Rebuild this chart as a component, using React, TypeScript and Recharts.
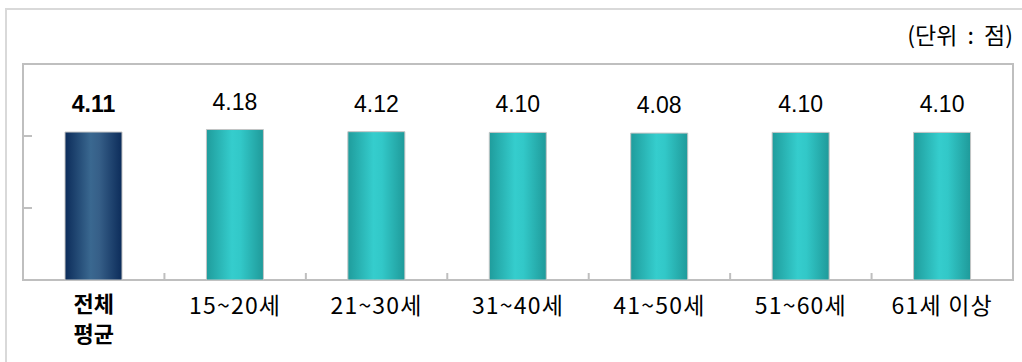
import React from 'react';
import { BarChart, Bar, XAxis, YAxis, Cell, LabelList, ReferenceArea } from 'recharts';

const categories = ['전체 평균', '15~20세', '21~30세', '31~40세', '41~50세', '51~60세', '61세 이상'];
const scores = [4.11, 4.18, 4.12, 4.10, 4.08, 4.10, 4.10];
const yTicks = [2, 4];
const unitLabel = '(단위 : 점)';

const data = categories.map((name, i) => ({ name, value: scores[i] }));

const KR = "'Noto Sans CJK KR', 'Noto Sans', sans-serif";
const NUM = "'Liberation Sans', Arial, sans-serif";
const GRID = '#bfbfbf';

const EmptyTick = () => <g />;

const CatTick = (props: any) => {
  const { x, y, payload, width, visibleTicksCount, index } = props;
  const v = String(payload.value);
  const step = Number(width) / Number(visibleTicksCount || categories.length);
  const bx = Number(x) + step / 2;
  const boundary =
    index < (visibleTicksCount || categories.length) - 1 ? (
      <line x1={bx} y1={y} x2={bx} y2={Number(y) - 7} stroke={GRID} strokeWidth={2} />
    ) : null;
  if (v === '전체 평균') {
    const parts = v.split(' ');
    return (
      <g>
        {boundary}
        <text x={x} y={y + 32} textAnchor="middle" fontFamily={KR} fontSize={22} fontWeight="bold" fill="#000">
          {parts[0]}
        </text>
        <text x={x} y={y + 62} textAnchor="middle" fontFamily={KR} fontSize={22} fontWeight="bold" fill="#000">
          {parts[1]}
        </text>
      </g>
    );
  }
  return (
    <g>
      {boundary}
      <text x={x} y={y + 34} textAnchor="middle" fontFamily={KR} fontSize={23} letterSpacing={1.2} fill="#000">
        {v}
      </text>
    </g>
  );
};

const ValueLabel = (props: any) => {
  const { x, y, width, value, index } = props;
  return (
    <text
      x={Number(x) + Number(width) / 2}
      y={Number(y) - 20}
      textAnchor="middle"
      fontFamily={NUM}
      fontSize={23}
      fontWeight={index === 0 ? 'bold' : 'normal'}
      fill="#000"
    >
      {Number(value).toFixed(2)}
    </text>
  );
};

export default function App() {
  return (
    <div style={{ position: 'absolute', left: 0, top: 0, width: 1022, height: 362, overflow: 'hidden', background: '#fff' }}>
      <div
        style={{
          position: 'absolute',
          left: 5,
          top: 8,
          width: 1017,
          height: 354,
          borderTop: '2px solid #d9d9d9',
          borderLeft: '2px solid #d9d9d9',
          boxSizing: 'border-box',
        }}
      />
      <div
        style={{
          position: 'absolute',
          right: 9,
          top: 23,
          fontFamily: KR,
          fontSize: 23,
          lineHeight: 1,
          wordSpacing: 5,
          color: '#000',
          whiteSpace: 'nowrap',
        }}
      >
        {unitLabel}
      </div>
      <div style={{ position: 'absolute', left: 0, top: 0 }}>
        <BarChart width={1022} height={362} data={data} margin={{ top: 64, right: 9, bottom: 32, left: 23 }}>
          <defs>
            <linearGradient id="gNavy" x1="0" y1="0" x2="1" y2="0">
              <stop offset="0%" stopColor="#0c2c5a" />
              <stop offset="45%" stopColor="#3a6890" />
              <stop offset="60%" stopColor="#365f88" />
              <stop offset="100%" stopColor="#0c2c5a" />
            </linearGradient>
            <linearGradient id="gTeal" x1="0" y1="0" x2="1" y2="0">
              <stop offset="0%" stopColor="#1f9c9c" />
              <stop offset="45%" stopColor="#35cdcd" />
              <stop offset="60%" stopColor="#32c8c8" />
              <stop offset="100%" stopColor="#1f9a9a" />
            </linearGradient>
          </defs>
          <ReferenceArea yAxisId="y" y1={0} y2={6} fill="none" stroke={GRID} strokeWidth={2} ifOverflow="visible" />
          <XAxis
            dataKey="name"
            xAxisId="cat"
            height={50}
            axisLine={false}
            tickLine={false}
            tickSize={0}
            tickMargin={0}
            interval={0}
            tick={<CatTick />}
          />
          <YAxis
            yAxisId="y"
            domain={[0, 6]}
            ticks={yTicks}
            interval={0}
            mirror
            axisLine={false}
            tick={EmptyTick}
            tickSize={9}
            tickLine={{ stroke: GRID, strokeWidth: 2 }}
          />
          <Bar dataKey="value" xAxisId="cat" yAxisId="y" barSize={57} stroke="#c4c4c4" strokeWidth={1} isAnimationActive={false}>
            {data.map((d, i) => (
              <Cell key={d.name} fill={i === 0 ? 'url(#gNavy)' : 'url(#gTeal)'} />
            ))}
            <LabelList dataKey="value" content={<ValueLabel />} />
          </Bar>
        </BarChart>
      </div>
    </div>
  );
}
